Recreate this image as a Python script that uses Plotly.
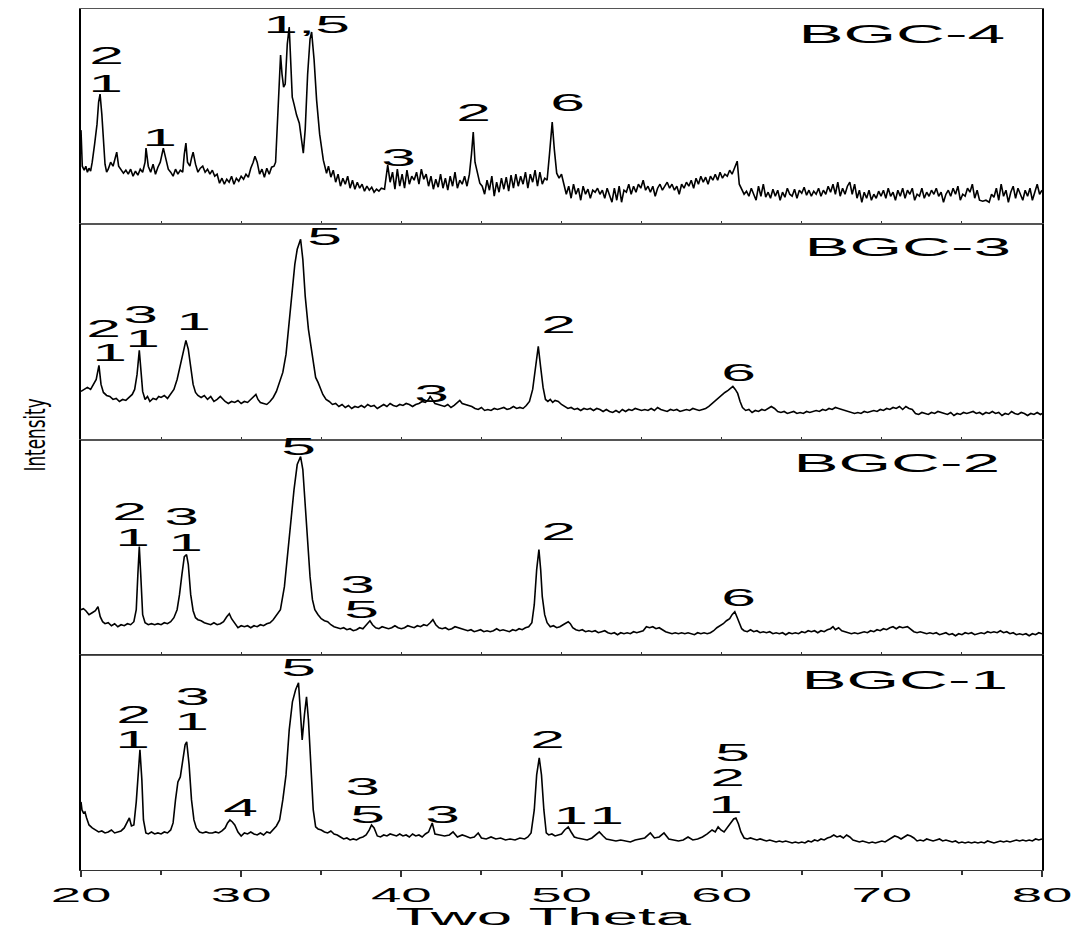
import plotly.graph_objects as go
from plotly.subplots import make_subplots

# ---------------- data (2-theta, relative intensity) ----------------
bgc4_points = [
    (20.0, 94), (20.08, 58), (20.2, 54), (20.3, 58), (20.4, 52), (20.5, 56), (20.6, 53), (20.7, 62), (20.85, 80),
    (21.0, 100), (21.1, 122), (21.19, 130), (21.3, 110), (21.4, 78), (21.5, 60), (21.6, 52), (21.7, 55), (21.85, 62),
    (22.0, 58), (22.1, 64), (22.23, 72), (22.35, 58), (22.5, 55), (22.65, 51), (22.8, 54), (22.95, 50), (23.1, 55),
    (23.25, 48), (23.4, 53), (23.55, 49), (23.7, 55), (23.85, 52), (24.0, 62), (24.06, 76), (24.2, 58), (24.35, 52),
    (24.5, 60), (24.65, 50), (24.8, 57), (24.95, 62), (25.14, 76), (25.3, 65), (25.45, 55), (25.6, 52), (25.75, 48),
    (25.9, 55), (26.05, 50), (26.2, 54), (26.35, 52), (26.45, 70), (26.55, 81), (26.65, 62), (26.8, 58), (26.9, 66),
    (27.0, 72), (27.15, 60), (27.3, 52), (27.45, 56), (27.6, 58), (27.75, 52), (27.9, 55), (28.05, 50), (28.2, 54),
    (28.35, 48), (28.5, 50), (28.65, 41), (28.8, 46), (28.95, 40), (29.1, 45), (29.25, 42), (29.4, 48), (29.55, 40),
    (29.7, 46), (29.85, 43), (30.0, 48), (30.15, 45), (30.3, 50), (30.45, 47), (30.6, 56), (30.75, 62), (30.86, 68),
    (31.0, 62), (31.15, 50), (31.3, 55), (31.45, 47), (31.6, 56), (31.75, 50), (31.9, 57), (32.05, 58), (32.15, 62),
    (32.3, 120), (32.46, 169), (32.55, 150), (32.65, 137), (32.75, 140), (32.88, 180), (33.0, 197), (33.1, 160),
    (33.19, 127), (33.3, 120), (33.46, 109), (33.63, 101), (33.75, 85), (33.88, 71), (34.0, 95), (34.15, 150),
    (34.3, 185), (34.4, 192), (34.55, 165), (34.71, 124), (34.9, 90), (35.13, 64), (35.33, 51), (35.45, 58),
    (35.6, 47), (35.75, 54), (35.9, 42), (36.05, 50), (36.2, 38), (36.35, 46), (36.5, 40), (36.65, 48), (36.8, 36),
    (36.95, 44), (37.1, 35), (37.25, 42), (37.4, 36), (37.55, 40), (37.7, 33), (37.85, 38), (38.0, 34), (38.15, 37),
    (38.3, 32), (38.45, 35), (38.6, 33), (38.75, 36), (38.95, 35), (39.15, 59), (39.3, 42), (39.45, 52), (39.6, 35),
    (39.75, 55), (39.9, 38), (40.05, 50), (40.2, 36), (40.35, 54), (40.5, 40), (40.65, 48), (40.8, 44), (40.95, 52),
    (41.1, 40), (41.25, 55), (41.4, 45), (41.55, 50), (41.7, 38), (41.85, 48), (42.0, 35), (42.15, 45), (42.3, 37),
    (42.45, 50), (42.6, 36), (42.75, 46), (42.9, 34), (43.05, 48), (43.2, 38), (43.35, 52), (43.5, 36), (43.65, 44),
    (43.8, 40), (43.95, 48), (44.1, 38), (44.25, 50), (44.38, 70), (44.49, 92), (44.6, 62), (44.75, 50), (44.9, 41),
    (45.05, 38), (45.2, 30), (45.35, 44), (45.5, 34), (45.65, 48), (45.8, 28), (45.95, 42), (46.1, 32), (46.25, 46),
    (46.4, 35), (46.55, 47), (46.7, 33), (46.85, 49), (47.0, 36), (47.15, 50), (47.3, 38), (47.45, 48), (47.6, 40),
    (47.75, 52), (47.9, 36), (48.05, 50), (48.2, 42), (48.35, 54), (48.5, 38), (48.65, 52), (48.8, 40), (48.95, 46),
    (49.1, 44), (49.25, 70), (49.42, 102), (49.55, 75), (49.7, 51), (49.85, 46), (50.0, 50), (50.15, 40), (50.3, 30),
    (50.45, 38), (50.6, 26), (50.75, 40), (50.9, 30), (51.05, 36), (51.2, 24), (51.35, 38), (51.5, 30), (51.65, 35),
    (51.8, 26), (51.95, 34), (52.1, 32), (52.25, 36), (52.4, 30), (52.55, 34), (52.7, 26), (52.85, 36), (53.0, 30),
    (53.15, 22), (53.3, 36), (53.45, 24), (53.6, 38), (53.75, 22), (53.9, 34), (54.05, 32), (54.2, 40), (54.35, 30),
    (54.5, 38), (54.65, 32), (54.8, 40), (54.95, 36), (55.1, 44), (55.25, 34), (55.4, 38), (55.55, 32), (55.7, 38),
    (55.85, 28), (56.0, 36), (56.15, 40), (56.3, 34), (56.45, 38), (56.6, 42), (56.75, 36), (56.9, 40), (57.05, 34),
    (57.2, 38), (57.35, 30), (57.5, 40), (57.65, 36), (57.8, 42), (57.95, 38), (58.1, 44), (58.25, 36), (58.4, 46),
    (58.55, 40), (58.7, 48), (58.85, 42), (59.0, 47), (59.15, 40), (59.3, 48), (59.45, 44), (59.6, 50), (59.75, 44),
    (59.9, 52), (60.05, 46), (60.2, 50), (60.35, 48), (60.5, 54), (60.65, 50), (60.8, 56), (60.97, 63), (61.1, 40),
    (61.25, 34), (61.4, 30), (61.55, 33), (61.7, 28), (61.85, 36), (62.0, 30), (62.15, 24), (62.3, 38), (62.45, 28),
    (62.6, 40), (62.75, 27), (62.9, 32), (63.05, 26), (63.2, 35), (63.35, 28), (63.5, 34), (63.65, 24), (63.8, 32),
    (63.95, 27), (64.1, 36), (64.25, 30), (64.4, 28), (64.55, 35), (64.7, 26), (64.85, 34), (65.0, 31), (65.15, 37),
    (65.3, 29), (65.45, 34), (65.6, 28), (65.75, 33), (65.9, 30), (66.05, 36), (66.2, 28), (66.35, 34), (66.5, 30),
    (66.65, 38), (66.8, 32), (66.95, 40), (67.1, 30), (67.25, 42), (67.4, 28), (67.55, 36), (67.7, 30), (67.85, 38),
    (68.0, 42), (68.15, 30), (68.3, 40), (68.45, 26), (68.6, 34), (68.75, 22), (68.9, 32), (69.05, 26), (69.2, 34),
    (69.35, 24), (69.5, 30), (69.65, 26), (69.8, 33), (69.95, 28), (70.1, 34), (70.25, 26), (70.4, 36), (70.55, 28),
    (70.7, 32), (70.85, 24), (71.0, 34), (71.15, 28), (71.3, 36), (71.45, 26), (71.6, 34), (71.75, 30), (71.9, 36),
    (72.05, 24), (72.2, 30), (72.35, 28), (72.5, 36), (72.65, 26), (72.8, 32), (72.95, 28), (73.1, 34), (73.25, 30),
    (73.4, 36), (73.55, 28), (73.7, 32), (73.85, 22), (74.0, 30), (74.15, 34), (74.3, 28), (74.45, 36), (74.6, 30),
    (74.75, 38), (74.9, 24), (75.05, 30), (75.2, 28), (75.35, 36), (75.5, 32), (75.65, 40), (75.8, 26), (75.95, 34),
    (76.1, 24), (76.3, 23), (76.5, 24), (76.7, 22), (76.85, 30), (77.0, 27), (77.15, 36), (77.3, 24), (77.45, 40),
    (77.6, 28), (77.75, 34), (77.9, 22), (78.05, 32), (78.2, 38), (78.35, 26), (78.5, 36), (78.65, 30), (78.8, 24),
    (78.95, 34), (79.1, 28), (79.25, 36), (79.4, 24), (79.55, 32), (79.7, 40), (79.85, 30), (80.0, 34),
]

bgc3_points = [
    (20.0, 48), (20.2, 50), (20.4, 52), (20.6, 50), (20.8, 56), (20.95, 60), (21.12, 74), (21.25, 55), (21.4, 47),
    (21.6, 44), (21.8, 43), (22.0, 40), (22.2, 41), (22.4, 38), (22.6, 40), (22.8, 39), (23.0, 42), (23.2, 45),
    (23.35, 50), (23.5, 65), (23.64, 89), (23.75, 65), (23.85, 48), (24.0, 40), (24.15, 43), (24.3, 38), (24.5, 41),
    (24.7, 40), (24.85, 43), (25.0, 42), (25.2, 44), (25.4, 41), (25.6, 45), (25.8, 50), (26.0, 60), (26.2, 75),
    (26.4, 90), (26.55, 99), (26.7, 90), (26.85, 72), (27.0, 55), (27.15, 47), (27.3, 44), (27.5, 42), (27.7, 44),
    (27.9, 40), (28.1, 43), (28.3, 38), (28.5, 40), (28.7, 43), (28.85, 40), (29.0, 38), (29.2, 36), (29.4, 38),
    (29.6, 37), (29.8, 39), (30.0, 36), (30.2, 38), (30.4, 37), (30.6, 40), (30.8, 44), (30.92, 45), (31.05, 40),
    (31.2, 37), (31.4, 36), (31.6, 35), (31.8, 38), (32.0, 42), (32.2, 48), (32.4, 57), (32.6, 67), (32.8, 85),
    (33.0, 120), (33.2, 150), (33.35, 175), (33.5, 190), (33.71, 200), (33.85, 180), (34.0, 143), (34.2, 110),
    (34.35, 93), (34.5, 75), (34.65, 62), (34.8, 57), (34.95, 50), (35.1, 45), (35.3, 40), (35.5, 38), (35.7, 35),
    (35.9, 36), (36.1, 33), (36.3, 35), (36.5, 32), (36.7, 34), (36.9, 31), (37.1, 33), (37.3, 32), (37.5, 34),
    (37.7, 32), (37.9, 35), (38.1, 33), (38.3, 34), (38.5, 31), (38.7, 33), (38.9, 35), (39.1, 33), (39.3, 36),
    (39.5, 34), (39.7, 33), (39.9, 35), (40.1, 34), (40.3, 36), (40.5, 35), (40.7, 33), (40.9, 35), (41.1, 36),
    (41.3, 38), (41.5, 37), (41.7, 40), (41.8, 43), (41.95, 40), (42.1, 36), (42.3, 35), (42.5, 34), (42.7, 33),
    (42.9, 35), (43.1, 32), (43.3, 34), (43.5, 37), (43.65, 39), (43.8, 36), (44.0, 35), (44.2, 34), (44.4, 33),
    (44.6, 31), (44.8, 30), (45.0, 32), (45.2, 29), (45.4, 30), (45.6, 29), (45.8, 31), (46.0, 30), (46.2, 31),
    (46.4, 32), (46.6, 30), (46.8, 31), (47.0, 33), (47.2, 31), (47.4, 32), (47.6, 31), (47.8, 34), (48.0, 38),
    (48.2, 50), (48.35, 70), (48.55, 93), (48.7, 72), (48.85, 52), (49.0, 40), (49.15, 38), (49.3, 40), (49.45, 37),
    (49.6, 39), (49.8, 38), (50.0, 35), (50.2, 33), (50.4, 31), (50.6, 32), (50.8, 30), (51.0, 31), (51.2, 29),
    (51.4, 31), (51.6, 30), (51.8, 31), (52.0, 29), (52.2, 31), (52.4, 30), (52.6, 28), (52.8, 30), (53.0, 28),
    (53.2, 27), (53.4, 29), (53.6, 27), (53.8, 30), (54.0, 28), (54.2, 30), (54.4, 29), (54.6, 31), (54.8, 30),
    (55.0, 29), (55.2, 30), (55.4, 29), (55.6, 31), (55.8, 29), (56.0, 32), (56.2, 30), (56.4, 29), (56.6, 28),
    (56.8, 30), (57.0, 29), (57.2, 30), (57.4, 28), (57.6, 29), (57.8, 30), (58.0, 29), (58.2, 31), (58.4, 30),
    (58.6, 29), (58.8, 30), (59.0, 31), (59.2, 33), (59.4, 36), (59.6, 39), (59.8, 42), (60.0, 45), (60.2, 47),
    (60.4, 49), (60.6, 52), (60.7, 53), (60.85, 50), (61.0, 46), (61.15, 38), (61.3, 32), (61.5, 29), (61.7, 30),
    (61.9, 27), (62.1, 29), (62.3, 28), (62.5, 30), (62.7, 29), (62.9, 31), (63.1, 33), (63.3, 31), (63.5, 28),
    (63.7, 27), (63.9, 28), (64.1, 26), (64.3, 27), (64.5, 28), (64.7, 26), (64.9, 27), (65.1, 26), (65.3, 28),
    (65.5, 27), (65.7, 28), (65.9, 29), (66.1, 28), (66.3, 30), (66.5, 29), (66.7, 31), (66.9, 30), (67.1, 32),
    (67.3, 31), (67.5, 30), (67.7, 29), (67.9, 28), (68.1, 27), (68.3, 26), (68.5, 27), (68.7, 26), (68.9, 28),
    (69.1, 27), (69.3, 28), (69.5, 29), (69.7, 28), (69.9, 30), (70.1, 29), (70.3, 31), (70.5, 30), (70.7, 32),
    (70.9, 31), (71.1, 33), (71.3, 30), (71.5, 33), (71.7, 31), (71.9, 30), (72.1, 26), (72.3, 25), (72.5, 27),
    (72.7, 26), (72.9, 25), (73.1, 27), (73.3, 26), (73.5, 28), (73.7, 27), (73.9, 26), (74.1, 25), (74.3, 27),
    (74.5, 24), (74.7, 26), (74.9, 25), (75.1, 27), (75.3, 26), (75.5, 27), (75.7, 28), (75.9, 26), (76.1, 27),
    (76.3, 25), (76.5, 27), (76.7, 26), (76.9, 28), (77.1, 26), (77.3, 27), (77.5, 24), (77.7, 26), (77.9, 25),
    (78.1, 28), (78.3, 26), (78.5, 25), (78.7, 27), (78.9, 26), (79.1, 24), (79.3, 26), (79.5, 25), (79.7, 27),
    (79.9, 25), (80.0, 26),
]

bgc2_points = [
    (20.0, 45), (20.15, 46), (20.3, 44), (20.5, 40), (20.7, 42), (20.9, 44), (21.06, 48), (21.2, 38), (21.35, 33),
    (21.5, 31), (21.7, 32), (21.9, 29), (22.1, 31), (22.3, 28), (22.5, 30), (22.7, 29), (22.9, 31), (23.1, 30),
    (23.3, 33), (23.45, 45), (23.55, 80), (23.64, 108), (23.73, 80), (23.85, 40), (24.0, 32), (24.2, 30), (24.4, 31),
    (24.6, 30), (24.8, 31), (25.0, 30), (25.2, 32), (25.4, 31), (25.6, 33), (25.8, 37), (26.0, 45), (26.15, 60),
    (26.3, 80), (26.45, 98), (26.59, 100), (26.7, 90), (26.85, 60), (27.0, 44), (27.15, 37), (27.3, 35), (27.5, 34),
    (27.7, 32), (27.9, 31), (28.1, 30), (28.3, 32), (28.5, 30), (28.7, 31), (28.9, 33), (29.1, 38), (29.26, 41),
    (29.4, 36), (29.6, 31), (29.8, 27), (30.0, 29), (30.2, 28), (30.4, 29), (30.6, 27), (30.8, 29), (31.0, 28),
    (31.2, 30), (31.4, 29), (31.6, 31), (31.8, 32), (32.0, 35), (32.2, 40), (32.45, 45), (32.7, 68), (32.9, 100),
    (33.1, 135), (33.3, 165), (33.5, 190), (33.71, 198), (33.85, 185), (34.0, 148), (34.15, 110), (34.3, 78),
    (34.45, 55), (34.6, 45), (34.8, 40), (35.0, 36), (35.2, 34), (35.4, 33), (35.6, 30), (35.8, 28), (36.0, 27),
    (36.2, 26), (36.4, 27), (36.6, 25), (36.8, 26), (37.0, 24), (37.2, 25), (37.4, 27), (37.6, 26), (37.8, 30),
    (38.04, 34), (38.2, 30), (38.4, 27), (38.6, 26), (38.8, 28), (39.0, 27), (39.2, 26), (39.4, 27), (39.6, 29),
    (39.8, 27), (40.0, 26), (40.2, 27), (40.4, 29), (40.6, 28), (40.8, 27), (41.0, 29), (41.2, 28), (41.4, 30),
    (41.6, 29), (41.8, 32), (41.97, 35), (42.15, 30), (42.35, 27), (42.55, 26), (42.75, 27), (42.95, 25),
    (43.15, 26), (43.35, 28), (43.55, 27), (43.75, 26), (43.95, 25), (44.15, 24), (44.35, 25), (44.55, 23),
    (44.75, 24), (44.95, 25), (45.15, 23), (45.35, 24), (45.55, 23), (45.75, 24), (45.95, 26), (46.15, 24),
    (46.35, 25), (46.55, 24), (46.75, 23), (46.95, 25), (47.15, 24), (47.35, 26), (47.55, 25), (47.75, 27),
    (47.95, 28), (48.15, 32), (48.3, 50), (48.45, 85), (48.59, 105), (48.7, 85), (48.8, 58), (48.95, 40),
    (49.1, 32), (49.3, 28), (49.5, 29), (49.7, 27), (49.9, 28), (50.1, 30), (50.3, 32), (50.42, 33), (50.55, 31),
    (50.7, 27), (50.9, 25), (51.1, 24), (51.3, 25), (51.5, 23), (51.7, 24), (51.9, 23), (52.1, 24), (52.3, 22),
    (52.5, 23), (52.7, 24), (52.9, 22), (53.1, 21), (53.3, 22), (53.5, 20), (53.7, 22), (53.9, 21), (54.1, 22),
    (54.3, 21), (54.5, 23), (54.7, 22), (54.9, 23), (55.1, 24), (55.3, 28), (55.5, 27), (55.7, 28), (55.9, 26),
    (56.1, 27), (56.3, 25), (56.5, 23), (56.7, 22), (56.9, 21), (57.1, 22), (57.3, 21), (57.5, 22), (57.7, 21),
    (57.9, 22), (58.1, 21), (58.3, 20), (58.5, 22), (58.7, 21), (58.9, 22), (59.1, 21), (59.3, 22), (59.5, 24),
    (59.7, 27), (59.9, 29), (60.1, 31), (60.3, 34), (60.5, 36), (60.65, 40), (60.82, 43), (60.95, 38), (61.1, 32),
    (61.25, 26), (61.4, 24), (61.6, 23), (61.8, 25), (62.0, 23), (62.2, 24), (62.4, 22), (62.6, 23), (62.8, 22),
    (63.0, 23), (63.2, 21), (63.4, 22), (63.6, 21), (63.8, 22), (64.0, 20), (64.2, 22), (64.4, 21), (64.6, 22),
    (64.8, 21), (65.0, 23), (65.2, 22), (65.4, 24), (65.6, 23), (65.8, 24), (66.0, 22), (66.2, 24), (66.4, 23),
    (66.6, 25), (66.8, 26), (66.95, 28), (67.1, 25), (67.3, 27), (67.5, 24), (67.7, 23), (67.9, 22), (68.1, 21),
    (68.3, 22), (68.5, 21), (68.7, 22), (68.9, 23), (69.1, 22), (69.3, 24), (69.5, 23), (69.7, 25), (69.9, 24),
    (70.1, 26), (70.3, 25), (70.5, 27), (70.7, 28), (70.9, 26), (71.1, 28), (71.3, 27), (71.6, 28), (71.8, 25),
    (72.0, 23), (72.2, 22), (72.4, 23), (72.6, 22), (72.8, 21), (73.0, 22), (73.2, 21), (73.4, 22), (73.6, 20),
    (73.8, 21), (74.0, 22), (74.2, 20), (74.4, 21), (74.6, 19), (74.8, 21), (75.0, 20), (75.2, 22), (75.4, 21),
    (75.6, 22), (75.8, 20), (76.0, 21), (76.2, 22), (76.4, 21), (76.6, 23), (76.8, 22), (77.0, 23), (77.2, 22),
    (77.4, 24), (77.6, 22), (77.8, 23), (78.0, 21), (78.2, 22), (78.4, 20), (78.6, 21), (78.8, 20), (79.0, 21),
    (79.2, 19), (79.4, 21), (79.6, 20), (79.8, 22), (80.0, 21),
]

bgc1_points = [
    (20.0, 68), (20.06, 60), (20.15, 57), (20.25, 58), (20.35, 52), (20.5, 45), (20.7, 42), (20.9, 40), (21.1, 38),
    (21.3, 39), (21.5, 37), (21.7, 38), (21.9, 40), (22.1, 37), (22.3, 38), (22.5, 39), (22.7, 42), (22.9, 48),
    (23.02, 52), (23.15, 44), (23.3, 45), (23.45, 68), (23.58, 100), (23.68, 120), (23.8, 90), (23.9, 50),
    (24.05, 37), (24.2, 36), (24.4, 38), (24.6, 36), (24.8, 37), (25.0, 36), (25.2, 38), (25.4, 37), (25.6, 40),
    (25.75, 47), (25.9, 70), (26.05, 88), (26.2, 93), (26.35, 110), (26.5, 125), (26.6, 128), (26.75, 105),
    (26.9, 70), (27.05, 50), (27.2, 42), (27.4, 38), (27.6, 37), (27.8, 38), (28.0, 37), (28.2, 37), (28.4, 38),
    (28.6, 37), (28.8, 39), (29.0, 42), (29.15, 47), (29.3, 50), (29.45, 48), (29.6, 45), (29.8, 38), (30.0, 34),
    (30.2, 37), (30.4, 36), (30.6, 38), (30.8, 36), (31.0, 35), (31.2, 37), (31.4, 35), (31.6, 38), (31.8, 37),
    (32.0, 40), (32.2, 44), (32.4, 50), (32.6, 70), (32.8, 95), (33.0, 140), (33.2, 168), (33.4, 180), (33.58, 187),
    (33.7, 160), (33.81, 130), (33.95, 155), (34.08, 173), (34.2, 150), (34.35, 100), (34.5, 60), (34.65, 43),
    (34.8, 41), (35.0, 40), (35.2, 38), (35.4, 37), (35.6, 39), (35.8, 36), (36.0, 35), (36.2, 33), (36.4, 31),
    (36.6, 32), (36.8, 30), (37.0, 31), (37.2, 30), (37.4, 32), (37.6, 33), (37.8, 35), (38.0, 40), (38.14, 45),
    (38.3, 42), (38.5, 34), (38.7, 33), (38.9, 35), (39.1, 34), (39.3, 36), (39.5, 35), (39.7, 34), (39.9, 36),
    (40.1, 34), (40.3, 35), (40.5, 33), (40.7, 36), (40.9, 34), (41.1, 35), (41.3, 33), (41.5, 36), (41.7, 38),
    (41.93, 47), (42.1, 36), (42.4, 35), (42.7, 34), (43.0, 35), (43.23, 38), (43.5, 33), (43.8, 35), (44.0, 34),
    (44.3, 32), (44.55, 33), (44.8, 37), (45.0, 32), (45.3, 31), (45.6, 33), (45.9, 31), (46.2, 32), (46.5, 30),
    (46.8, 31), (47.1, 30), (47.4, 32), (47.7, 31), (47.9, 33), (48.1, 37), (48.3, 60), (48.45, 95), (48.61, 112),
    (48.75, 95), (48.9, 60), (49.05, 37), (49.2, 35), (49.4, 36), (49.6, 34), (49.8, 35), (50.0, 36), (50.2, 40),
    (50.42, 43), (50.6, 38), (50.8, 33), (51.0, 32), (51.3, 31), (51.6, 30), (51.9, 32), (52.1, 35), (52.36, 38),
    (52.6, 34), (52.8, 31), (53.1, 30), (53.4, 29), (53.7, 30), (54.0, 29), (54.3, 28), (54.6, 30), (54.9, 31),
    (55.2, 32), (55.55, 37), (55.8, 32), (56.1, 33), (56.4, 37), (56.7, 31), (57.0, 30), (57.3, 29), (57.6, 30),
    (57.9, 33), (58.2, 30), (58.5, 31), (58.8, 33), (59.1, 36), (59.4, 40), (59.6, 38), (59.78, 43), (59.95, 40),
    (60.15, 38), (60.35, 42), (60.55, 47), (60.75, 51), (60.89, 52), (61.05, 46), (61.2, 38), (61.4, 32),
    (61.6, 31), (61.8, 32), (62.0, 31), (62.2, 30), (62.4, 31), (62.6, 30), (62.8, 29), (63.0, 30), (63.2, 29),
    (63.4, 28), (63.6, 29), (63.8, 28), (64.0, 29), (64.2, 28), (64.4, 27), (64.6, 28), (64.8, 27), (65.0, 28),
    (65.2, 27), (65.4, 29), (65.6, 28), (65.8, 30), (66.0, 29), (66.2, 31), (66.4, 30), (66.6, 32), (66.8, 33),
    (67.0, 35), (67.2, 33), (67.4, 34), (67.6, 32), (67.8, 35), (68.0, 33), (68.2, 30), (68.4, 29), (68.6, 28),
    (68.8, 29), (69.0, 28), (69.2, 27), (69.4, 28), (69.6, 27), (69.8, 28), (70.0, 29), (70.2, 28), (70.4, 30),
    (70.6, 32), (70.8, 34), (71.0, 33), (71.2, 31), (71.4, 33), (71.6, 35), (71.8, 34), (72.0, 32), (72.2, 29),
    (72.4, 30), (72.6, 29), (72.8, 31), (73.0, 30), (73.2, 29), (73.4, 30), (73.6, 31), (73.8, 29), (74.0, 30),
    (74.2, 29), (74.4, 28), (74.6, 29), (74.8, 27), (75.0, 28), (75.2, 27), (75.4, 28), (75.6, 27), (75.8, 28),
    (76.0, 27), (76.2, 28), (76.4, 27), (76.6, 29), (76.8, 28), (77.0, 27), (77.2, 28), (77.4, 29), (77.6, 28),
    (77.8, 29), (78.0, 28), (78.2, 29), (78.4, 30), (78.6, 29), (78.8, 30), (79.0, 29), (79.2, 30), (79.4, 29),
    (79.6, 31), (79.8, 30), (80.0, 31),
]

# peak phase labels: (text, 2-theta, height)
bgc4_labels = [("2", 21.6, 169), ("1", 21.5, 141), ("1", 24.93, 87), ("1,5", 34.1, 200),
               ("3", 39.8, 67), ("2", 44.5, 112), ("6", 50.4, 122)]
bgc3_labels = [("2", 21.4, 111), ("1", 21.75, 87), ("3", 23.7, 125), ("1", 23.85, 101), ("1", 27.0, 118),
               ("5", 35.2, 203), ("3", 41.9, 46), ("2", 49.8, 115), ("6", 61.05, 67)]
bgc2_labels = [("2", 23.0, 143), ("1", 23.2, 117), ("3", 26.3, 138), ("1", 26.55, 112), ("5", 33.55, 208),
               ("3", 37.26, 70), ("5", 37.54, 45), ("2", 49.8, 123), ("6", 61.05, 57)]
bgc1_labels = [("2", 23.3, 155), ("1", 23.2, 130), ("3", 26.93, 173), ("1", 26.87, 148), ("4", 29.93, 62),
               ("5", 33.6, 202), ("3", 37.57, 83), ("5", 37.88, 55), ("3", 42.57, 55), ("2", 49.12, 130),
               ("1", 50.55, 54), ("1", 52.8, 54), ("5", 60.7, 117), ("2", 60.36, 92), ("1", 60.26, 65)]

sample_names = ["BGC-4", "BGC-3", "BGC-2", "BGC-1"]
name_positions = [(71.2, 190), (71.6, 192), (70.9, 192), (71.4, 190)]
x_ticks = [20, 30, 40, 50, 60, 70, 80]

panels = [bgc4_points, bgc3_points, bgc2_points, bgc1_points]
panel_labels = [bgc4_labels, bgc3_labels, bgc2_labels, bgc1_labels]

# ---------------- figure ----------------
FONT = "Liberation Sans, Arial, Helvetica, sans-serif"
fig = make_subplots(rows=4, cols=1, shared_xaxes=True, vertical_spacing=0)

for i, pts in enumerate(panels):
    row = i + 1
    fig.add_trace(go.Scatter(x=[p[0] for p in pts], y=[p[1] for p in pts], mode="lines",
                             line=dict(color="black", width=1.6), showlegend=False,
                             hoverinfo="skip"), row=row, col=1)
    for txt, tx, ty in panel_labels[i]:
        fig.add_annotation(x=tx, y=ty, text=txt, showarrow=False, xanchor="center", yanchor="middle",
                           font=dict(family=FONT, size=24, color="black"), row=row, col=1)
    nx, ny = name_positions[i]
    fig.add_annotation(x=nx, y=ny, text=sample_names[i], showarrow=False, xanchor="center",
                       yanchor="middle", font=dict(family=FONT, size=26, color="black"), row=row, col=1)

for row in range(1, 5):
    last = row == 4
    fig.update_xaxes(range=[20, 80], showline=True, linecolor="#555555" if not last else "#333333",
                     linewidth=1, mirror=True, showgrid=False, zeroline=False,
                     tickvals=x_ticks, showticklabels=last,
                     ticks="outside" if last else "inside", ticklen=6 if last else 3,
                     tickwidth=1.5 if last else 1, tickcolor="#333333",
                     minor=dict(dtick=5, tick0=20, ticks="outside" if last else "inside",
                                ticklen=4 if last else 3, tickcolor="#333333", showgrid=False),
                     tickfont=dict(family=FONT, size=21, color="black"),
                     row=row, col=1)
    fig.update_yaxes(range=[0, 215], showline=True, linecolor="black", linewidth=2, mirror=True,
                     showgrid=False, zeroline=False, showticklabels=False, ticks="", row=row, col=1)

# axis titles
fig.add_annotation(xref="paper", yref="paper", x=0.482, y=-0.0535, text="Two Theta", showarrow=False,
                   xanchor="center", yanchor="middle", font=dict(family=FONT, size=24, color="black"))
fig.add_annotation(xref="paper", yref="paper", x=-0.048, y=0.505, text="Intensity", showarrow=False,
                   textangle=-90, xanchor="center", yanchor="middle",
                   font=dict(family="Liberation Sans Narrow, DejaVu Sans Condensed, Arial Narrow, Liberation Sans, sans-serif",
                             size=22, color="black"))

fig.update_layout(width=1071, height=930, margin=dict(l=81, r=29, t=9, b=60),
                  paper_bgcolor="white", plot_bgcolor="white", showlegend=False)

stretch_js = """
document.body.style.margin = '0';
var gd = document.getElementById('{plot_id}');
function tf(t, sx, sy) {
  if (t.getAttribute('data-st')) return;
  var b = t.getBBox();
  var cx = b.x + b.width / 2, cy = b.y + b.height / 2;
  var tr = t.getAttribute('transform') || '';
  t.setAttribute('transform', tr + ' translate(' + cx + ',' + cy + ') scale(' + sx + ',' + sy + ') translate(' + (-cx) + ',' + (-cy) + ')');
  t.setAttribute('data-st', '1');
}
gd.querySelectorAll('.annotation-text').forEach(function(t) {
  if (t.textContent === 'Intensity') { tf(t, 0.85, 1.3); }
  else if (t.textContent === 'Two Theta') { tf(t, 2.65, 1.02); }
  else { tf(t, 2.6, 1); }
});
gd.querySelectorAll('.xaxislayer-above text').forEach(function(t) { tf(t, 2.6, 1); });
"""

fig.write_html("out.html", post_script=stretch_js, config={"responsive": False, "displayModeBar": False})
